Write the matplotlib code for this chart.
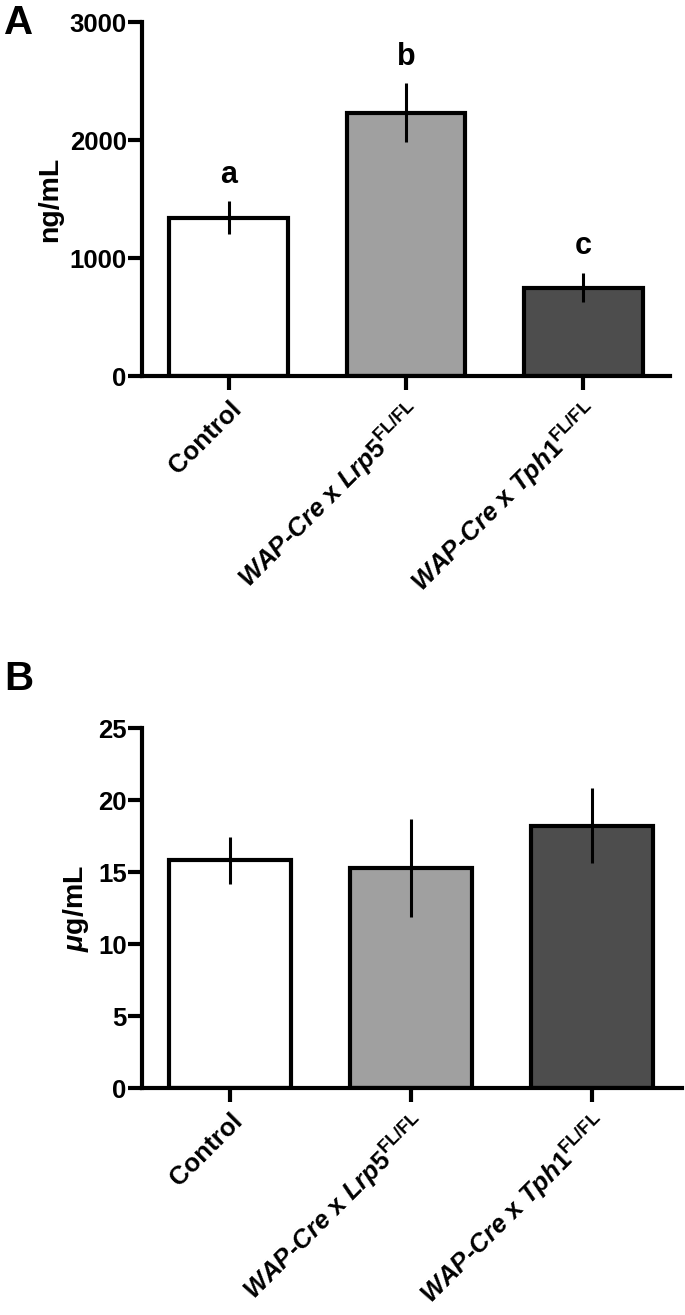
import matplotlib
matplotlib.use("Agg")
import matplotlib.pyplot as plt

plt.rcParams['font.family'] = ['Liberation Sans', 'DejaVu Sans']
plt.rcParams['font.weight'] = 'bold'
plt.rcParams['mathtext.fontset'] = 'custom'
plt.rcParams['mathtext.rm'] = 'Liberation Sans:bold'
plt.rcParams['mathtext.bf'] = 'Liberation Sans:bold'
plt.rcParams['mathtext.it'] = 'Liberation Sans:italic:bold'

# data
groups = ['Control',
          r'$\mathit{WAP}$-$\mathit{Cre}$ x $\mathit{Lrp5}^{\mathrm{FL/FL}}$',
          r'$\mathit{WAP}$-$\mathit{Cre}$ x $\mathit{Tph1}^{\mathrm{FL/FL}}$']
bar_colors = ['white', '#a0a0a0', '#4d4d4d']

a_means = [1340, 2230, 750]
a_errs = [140, 250, 125]
a_letters = ['a', 'b', 'c']

b_means = [15.8, 15.3, 18.2]
b_errs = [1.6, 3.4, 2.6]

W, H = 685, 1315
fig = plt.figure(figsize=(W / 100, H / 100), dpi=100)


def draw_panel(ax, means, errs, ylim, yticks, ylabel, xlim):
    x = list(range(len(means)))
    ax.bar(x, means, width=0.67, color=bar_colors, edgecolor='black',
           linewidth=3, zorder=2)
    ax.errorbar(x, means, yerr=errs, fmt='none', ecolor='black',
                elinewidth=2.2, capsize=0, zorder=3)
    ax.set_xlim(*xlim)
    ax.set_ylim(*ylim)
    ax.set_yticks(yticks)
    ax.set_xticks(x)
    ax.set_xticklabels(groups, rotation=45, ha='right', rotation_mode='anchor',
                       fontsize=20.5, fontweight='bold')
    ax.set_ylabel(ylabel, fontsize=20.5, fontweight='bold', labelpad=5)
    for s in ['top', 'right']:
        ax.spines[s].set_visible(False)
    for s in ['left', 'bottom']:
        ax.spines[s].set_linewidth(3)
    ax.tick_params(axis='both', width=3, length=10, labelsize=18.5)
    ax.tick_params(axis='x', pad=5)
    ax.tick_params(axis='y', pad=1)
    for lab in ax.get_yticklabels():
        lab.set_fontweight('bold')
    ax.patch.set_alpha(0)


# panel A
axA = fig.add_axes([142 / W, (H - 376) / H, (670 - 142) / W, 354 / H])
draw_panel(axA, a_means, a_errs, (0, 3000), [0, 1000, 2000, 3000], 'ng/mL',
           (-0.49, 2.49))
for i, (m, e, t) in enumerate(zip(a_means, a_errs, a_letters)):
    axA.text(i, m + e + 100, t, ha='center', va='bottom', fontsize=22,
             fontweight='bold')

# panel B
axB = fig.add_axes([142 / W, (H - 1088) / H, (682 - 142) / W, 360 / H])
draw_panel(axB, b_means, b_errs, (0, 25), [0, 5, 10, 15, 20, 25], r'$\mu$g/mL',
           (-0.486, 2.497))

fig.text(4 / W, 1 - 4 / H, 'A', fontsize=29, fontweight='bold', va='top')
fig.text(4 / W, 1 - 660 / H, 'B', fontsize=29, fontweight='bold', va='top')

fig.savefig('out.png', dpi=100)
